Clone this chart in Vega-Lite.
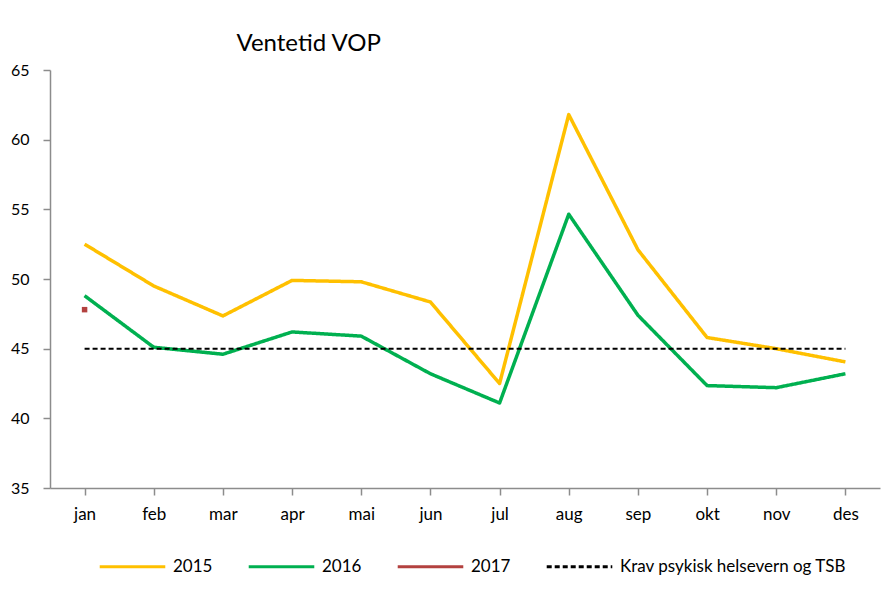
{
  "$schema": "https://vega.github.io/schema/vega-lite/v6.json",
  "autosize": "none",
  "width": 830,
  "height": 418,
  "padding": {"left": 50, "top": 70, "right": 8, "bottom": 105},
  "background": "white",
  "title": {"text": "Ventetid VOP", "anchor": "start", "dx": 226, "offset": 6, "font": "Lato", "fontSize": 24, "fontWeight": "normal", "color": "#000000"},
  "config": {
    "view": {"stroke": null},
    "font": "Lato"
  },
  "data": {"values": [
    {"month": "jan", "series": "2015", "value": 52.5},
    {"month": "feb", "series": "2015", "value": 49.5},
    {"month": "mar", "series": "2015", "value": 47.35},
    {"month": "apr", "series": "2015", "value": 49.9},
    {"month": "mai", "series": "2015", "value": 49.8},
    {"month": "jun", "series": "2015", "value": 48.35},
    {"month": "jul", "series": "2015", "value": 42.5},
    {"month": "aug", "series": "2015", "value": 61.8},
    {"month": "sep", "series": "2015", "value": 52.1},
    {"month": "okt", "series": "2015", "value": 45.8},
    {"month": "nov", "series": "2015", "value": 45.0},
    {"month": "des", "series": "2015", "value": 44.05},
    {"month": "jan", "series": "2016", "value": 48.8},
    {"month": "feb", "series": "2016", "value": 45.1},
    {"month": "mar", "series": "2016", "value": 44.6},
    {"month": "apr", "series": "2016", "value": 46.2},
    {"month": "mai", "series": "2016", "value": 45.9},
    {"month": "jun", "series": "2016", "value": 43.2},
    {"month": "jul", "series": "2016", "value": 41.1},
    {"month": "aug", "series": "2016", "value": 54.65},
    {"month": "sep", "series": "2016", "value": 47.4},
    {"month": "okt", "series": "2016", "value": 42.35},
    {"month": "nov", "series": "2016", "value": 42.2},
    {"month": "des", "series": "2016", "value": 43.2},
    {"month": "jan", "series": "2017", "value": 47.8},
    {"month": "jan", "series": "Krav psykisk helsevern og TSB", "value": 45},
    {"month": "feb", "series": "Krav psykisk helsevern og TSB", "value": 45},
    {"month": "mar", "series": "Krav psykisk helsevern og TSB", "value": 45},
    {"month": "apr", "series": "Krav psykisk helsevern og TSB", "value": 45},
    {"month": "mai", "series": "Krav psykisk helsevern og TSB", "value": 45},
    {"month": "jun", "series": "Krav psykisk helsevern og TSB", "value": 45},
    {"month": "jul", "series": "Krav psykisk helsevern og TSB", "value": 45},
    {"month": "aug", "series": "Krav psykisk helsevern og TSB", "value": 45},
    {"month": "sep", "series": "Krav psykisk helsevern og TSB", "value": 45},
    {"month": "okt", "series": "Krav psykisk helsevern og TSB", "value": 45},
    {"month": "nov", "series": "Krav psykisk helsevern og TSB", "value": 45},
    {"month": "des", "series": "Krav psykisk helsevern og TSB", "value": 45}
  ]},
  "encoding": {
    "x": {
      "field": "month", "type": "nominal",
      "scale": {"domain": ["jan","feb","mar","apr","mai","jun","jul","aug","sep","okt","nov","des"], "padding": 0.5},
      "axis": {"title": null, "labelAngle": 0, "labelFontSize": 17, "labelColor": "#000000", "labelPadding": 11, "domainColor": "#8c8c8c", "domainWidth": 1.5, "tickColor": "#8c8c8c", "tickWidth": 1.5, "tickSize": 7, "grid": false}
    },
    "y": {
      "field": "value", "type": "quantitative",
      "scale": {"domain": [35, 65], "nice": false, "zero": false},
      "axis": {"title": null, "values": [35,40,45,50,55,60,65], "labelFontSize": 16, "labelColor": "#000000", "labelPadding": 14, "domainColor": "#8c8c8c", "domainWidth": 1.5, "tickColor": "#8c8c8c", "tickWidth": 1.5, "tickSize": 7, "grid": false}
    }
  },
  "layer": [
    {
      "mark": {"type": "line", "strokeJoin": "round"},
      "encoding": {
        "color": {
          "field": "series", "type": "nominal",
          "scale": {"domain": ["2015","2016","2017","Krav psykisk helsevern og TSB"], "range": ["#FFC000","#00B050","#B3413F","#000000"]},
          "legend": {"title": null, "orient": "none", "legendX": 48, "legendY": 462, "direction": "horizontal", "columns": 4, "symbolType": "stroke", "symbolSize": 4300, "symbolStrokeWidth": 3, "labelFontSize": 17, "labelColor": "#000000", "labelOffset": 6, "columnPadding": 29, "labelLimit": 400}
        },
        "strokeDash": {
          "field": "series", "type": "nominal",
          "scale": {"domain": ["2015","2016","2017","Krav psykisk helsevern og TSB"], "range": [[1,0],[1,0],[1,0],[5,3]]},
          "legend": {"title": null}
        },
        "strokeWidth": {
          "condition": {"test": "datum.series === 'Krav psykisk helsevern og TSB'", "value": 2},
          "value": 3.5
        }
      }
    },
    {
      "transform": [{"filter": "datum.series === '2017'"}],
      "mark": {"type": "point", "shape": "square", "filled": true, "size": 30, "color": "#B3413F", "opacity": 1}
    }
  ]
}
